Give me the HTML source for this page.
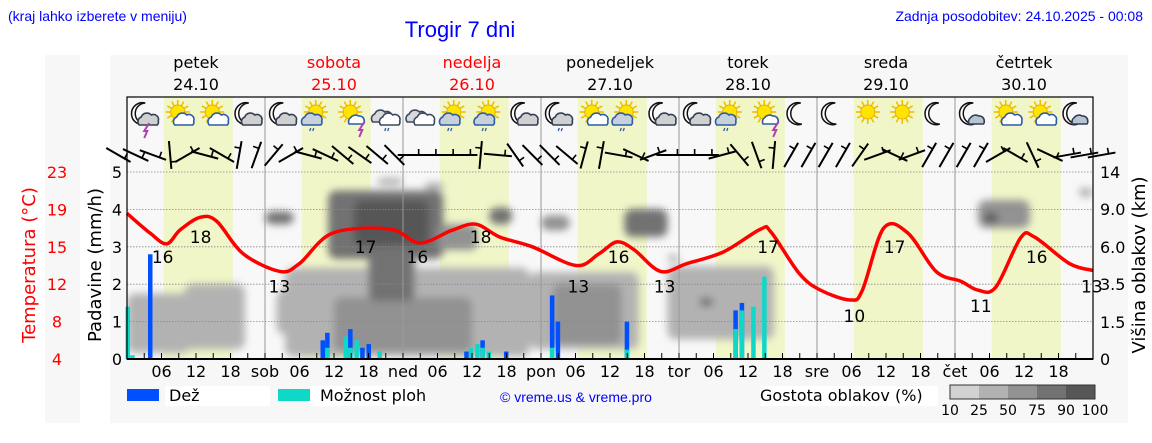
<!DOCTYPE html>
<html><head><meta charset="utf-8"><style>
body{margin:0;background:#fff;width:1152px;height:443px;overflow:hidden;font-family:"Liberation Sans","DejaVu Sans",sans-serif}
svg{display:block}
text{font-family:"DejaVu Sans","Liberation Sans",sans-serif}
</style></head><body>
<svg id="chart" width="1152" height="443" viewBox="0 0 1152 443" xmlns="http://www.w3.org/2000/svg">
<defs><filter id="blur" x="-30%" y="-30%" width="160%" height="160%"><feGaussianBlur stdDeviation="4"/></filter>
<clipPath id="plotclip"><rect x="127" y="97" width="966" height="262"/></clipPath></defs>
<rect x="45" y="55" width="35" height="368" fill="#f7f7f7"/>
<rect x="110" y="55" width="1018" height="368" fill="#f7f7f7"/>
<text x="8" y="21" font-size="14" fill="#0000ff" style="font-family:'Liberation Sans',sans-serif">(kraj lahko izberete v meniju)</text>
<text x="460" y="37" font-size="22" fill="#0000ff" text-anchor="middle" style="font-family:'Liberation Sans',sans-serif">Trogir 7 dni</text>
<text x="1143" y="21" font-size="14" fill="#0000ff" text-anchor="end" style="font-family:'Liberation Sans',sans-serif">Zadnja posodobitev: 24.10.2025 - 00:08</text>
<text transform="translate(35,265) rotate(-90)" font-size="18" fill="#ff0000" text-anchor="middle">Temperatura (°C)</text>
<text transform="translate(101,265) rotate(-90)" font-size="18" fill="#000" text-anchor="middle">Padavine (mm/h)</text>
<text transform="translate(1145,265) rotate(-90)" font-size="18" fill="#000" text-anchor="middle">Višina oblakov (km)</text>
<g id="g-bg"></g><g id="g-cloud" clip-path="url(#plotclip)"><g id="g-cloud-in" filter="url(#blur)"></g></g><g id="g-grid"></g><g id="g-bars"></g><g id="g-temp"></g><g id="g-icons"></g><g id="g-wind"></g><g id="g-axes"></g>
<rect x="127" y="389" width="32" height="12" fill="#0050ff"/>
<rect x="165" y="386" width="105" height="20" fill="#fff"/>
<text x="169" y="401" font-size="16">Dež</text>
<rect x="278" y="389" width="32" height="12" fill="#10d8c8"/>
<rect x="310" y="386" width="110" height="20" fill="#fff"/>
<text x="320" y="401" font-size="16">Možnost ploh</text>
<text x="500" y="402" font-size="14" fill="#0000ff" style="font-family:'Liberation Sans',sans-serif">© vreme.us &amp; vreme.pro</text>
<rect x="760" y="386" width="178" height="20" fill="#fff"/>
<text x="760" y="401" font-size="16">Gostota oblakov (%)</text>
<g id="g-dens"></g>
</svg>
<script>
const NS='http://www.w3.org/2000/svg';
const X0=127,PX_H=5.75,Y0=359;
function xH(h){return X0+h*PX_H;}
function yP(v){return Y0-v*37.4;}
function yT(t){return Y0-(t-4)*9.84;}
const kmTicks=[0,1.5,3.5,6,9,14],kmPix=[359,322,284,247,209,172];
function yKm(k){for(let i=1;i<kmTicks.length;i++){if(k<=kmTicks[i]){const f=(k-kmTicks[i-1])/(kmTicks[i]-kmTicks[i-1]);return kmPix[i-1]+f*(kmPix[i]-kmPix[i-1]);}}return 172-(k-14)*7.4;}
function mk(tag,at,par){const e=document.createElementNS(NS,tag);for(const k in at)e.setAttribute(k,at[k]);par.appendChild(e);return e;}
const G=id=>document.getElementById(id);

const dayNames=['petek','sobota','nedelja','ponedeljek','torek','sreda','četrtek'];
const dayDates=['24.10','25.10','26.10','27.10','28.10','29.10','30.10'];
const dayAbbr=['sob','ned','pon','tor','sre','čet'];
const tempHours=[0,4.0,6.9,9.2,12.7,15.6,20.2,26.6,30.0,35.8,45.7,50.9,56.6,60.7,64.8,70.5,78.1,82.1,85.2,88.2,92.8,97.4,103.8,110.2,112.0,116.9,120.6,125.8,127.9,131.6,135.8,140.7,145.0,148.0,151.1,155.4,157.8,163.9,168];
const tempVals=[18.8,16.8,15.7,17.1,18.4,18.0,14.7,12.9,13.7,16.8,17.2,15.8,17.1,17.7,16.4,15.4,13.5,14.7,15.9,15.1,12.9,13.7,14.9,17.2,16.9,12.7,11.0,10.0,11.0,17.3,16.8,12.9,11.9,11.0,11.3,16.3,16.4,13.7,13.0];
const tempLabelHours=[6.2,12.8,26.5,41.5,50.5,61.5,78.5,85.5,93.5,111.5,126.5,133.5,148.5,158.2,167.8];
const tempLabelVals=[16,18,13,17,16,18,13,16,13,17,10,17,11,16,13];
const barHours=[0.1,0.9,4.0,34.0,34.8,36.3,38.0,38.8,39.9,40.9,42.0,43.9,59.0,59.8,60.9,61.8,62.9,65.9,73.9,74.9,86.9,105.8,106.9,108.9,110.8];
const rainVals=[0,0,2.8,0.5,0.7,0,0,0.8,0,0.3,0.4,0,0.2,0,0,0.5,0,0.2,1.7,1.0,1.0,1.3,1.5,0,0];
const stormVals=[1.4,0.1,0,0,0.3,0,0.6,0.3,0.5,0,0,0.2,0,0.3,0.4,0.3,0.2,0,0.3,0,0.25,0.8,1.3,1.4,2.2];
const cloudH0=[0,10,24,27.5,36,35,39.5,42,54,63,72,43.5,51.7,70,74,86.5,94,99.5,148,149,165.5,94,3,26];
const cloudH1=[11,20.5,29,70,60,55,52.5,50,61,67,77,48,55.2,89,86,94,112.5,102,157,151.5,168,96,8,33];
const cloudKmLo=[0.25,0.4,7.8,0.1,0.3,5.2,6.1,2.6,5.8,7.8,7.3,12.2,11.5,0.4,0.6,6.8,0.8,2.3,7.5,7.9,10.6,5.0,0.6,1.0];
const cloudKmHi=[3.0,3.5,8.8,4.6,2.8,11.5,10.2,5.6,7.8,9.2,8.5,13.2,12.6,4.3,3.5,9.0,4.7,2.8,10.2,8.7,11.9,5.5,2.2,3.2];
const cloudDens=[25,40,75,30,55,75,90,80,70,80,60,25,30,30,50,80,40,75,55,90,25,25,45,40];
const windAngles=[30,25,20,85,-30,15,30,-80,-70,-50,-30,15,25,40,35,40,45,0,0,0,0,-85,5,55,45,45,40,-75,-80,10,25,-20,0,0,0,-15,50,70,-85,-60,-60,-60,-60,-55,-20,25,-20,-60,-60,-60,-60,-30,30,65,25,-10,-10,-10];
const iconTypes=['moonstorm','suncloud','suncloud','mooncloud','mooncloud','suncloudrain','sunstorm','cloudrain','clouds','suncloudrain','suncloudrain','mooncloud','moonrain','suncloud','suncloudrain','mooncloud','mooncloud','suncloudrain','sunstorm','moon','moon','sun','sun','moon','mooncloudl','suncloud','suncloud','mooncloudl'];
const densLabels=[10,25,50,75,90,100];
const densColors=['#d2d2d2','#b2b2b2','#929292','#727272','#575757'];
function densColor(d){return d<25?densColors[0]:d<50?densColors[1]:d<75?densColors[2]:d<90?densColors[3]:densColors[4];}

const bg=G('g-bg');
mk('rect',{x:127,y:97,width:966,height:262,fill:'#f8f8f8'},bg);
for(let d=0;d<7;d++){const r=mk('rect',{x:xH(24*d+6.4),y:97,width:12*PX_H,height:262,fill:'#f1f6c8'},bg);
}
const cg=G('g-cloud-in');
for(let i=0;i<cloudH0.length;i++){const y1=yKm(cloudKmHi[i]),y2=yKm(cloudKmLo[i]);
const e=mk('rect',{x:xH(cloudH0[i]),y:y1,width:xH(cloudH1[i])-xH(cloudH0[i]),height:y2-y1,rx:8,fill:densColor(cloudDens[i])},cg);
}
const gg=G('g-grid');
for(let v=1;v<=5;v++){mk('line',{x1:127,x2:1093,y1:yP(v),y2:yP(v),stroke:'#888','stroke-width':0.8,'stroke-dasharray':'1.5,1.5'},gg);}
for(let d=1;d<7;d++){mk('line',{x1:xH(24*d),x2:xH(24*d),y1:97,y2:359,stroke:'#999','stroke-width':1},gg);}
const bgp=G('g-bars');
for(let i=0;i<barHours.length;i++){const x=xH(barHours[i])-2;
if(rainVals[i]>0){const b=mk('rect',{x:x,y:yP(rainVals[i]),width:4.5,height:Y0-yP(rainVals[i]),fill:'#0050ff'},bgp);
}
if(stormVals[i]>0){const c=mk('rect',{x:x,y:yP(stormVals[i]),width:4.5,height:Y0-yP(stormVals[i]),fill:'#10d8c8'},bgp);
}}
const tg=G('g-temp');
const pts=tempHours.map((h,i)=>[xH(h),yT(tempVals[i])]);
let d='M'+pts[0][0]+','+pts[0][1];
for(let i=0;i<pts.length-1;i++){const p0=pts[Math.max(0,i-1)],p1=pts[i],p2=pts[i+1],p3=pts[Math.min(pts.length-1,i+2)];
d+=' C'+(p1[0]+(p2[0]-p0[0])/6)+','+(p1[1]+(p2[1]-p0[1])/6)+' '+(p2[0]-(p3[0]-p1[0])/6)+','+(p2[1]-(p3[1]-p1[1])/6)+' '+p2[0]+','+p2[1];}
const tl=mk('path',{d:d,fill:'none',stroke:'#ff0000','stroke-width':3.5},tg);

for(let i=0;i<tempLabelHours.length;i++){const t=mk('text',{x:xH(tempLabelHours[i]),y:yT(tempLabelVals[i])+22,'font-size':17,'text-anchor':'middle',fill:'#000'},tg);
t.textContent=tempLabelVals[i];}
const ig=G('g-icons');
function sun(g,cx,cy,r){for(let a=0;a<12;a++){const an=a*Math.PI/6;mk('line',{x1:cx+Math.cos(an)*r,y1:cy+Math.sin(an)*r,x2:cx+Math.cos(an)*(r+5),y2:cy+Math.sin(an)*(r+5),stroke:'#f0c000','stroke-width':1.6},g);}
mk('circle',{cx:cx,cy:cy,r:r,fill:'#ffe400',stroke:'#e8b000','stroke-width':1},g);}
function moon(g,cx,cy){mk('path',{d:`M${cx+4},${cy-11} A11,11 0 1 0 ${cx+5},${cy+10} A9,9 0 0 1 ${cx+4},${cy-11}Z`,fill:'#fff',stroke:'#111','stroke-width':1.5},g);}
function cloud(g,cx,cy,s,fill,stroke){mk('path',{d:`M${cx-9*s},${cy+5*s} A5,5 0 0 1 ${cx-7*s},${cy-3*s} A6,6 0 0 1 ${cx+3*s},${cy-5*s} A5,5 0 0 1 ${cx+10*s},${cy+1*s} A4,4 0 0 1 ${cx+9*s},${cy+5*s} Z`,fill:fill,stroke:stroke,'stroke-width':1.6},g);}
function bolt(g,cx,cy){mk('path',{d:`M${cx+2},${cy} L${cx-3},${cy+8} L${cx},${cy+8} L${cx-3},${cy+15}`,fill:'none',stroke:'#b040b0','stroke-width':2},g);}
function rain(g,cx,cy){mk('path',{d:`M${cx-2},${cy} l-1,3 M${cx+1},${cy} l-1,3`,stroke:'#345a9a','stroke-width':1.3},g);}
iconTypes.forEach((t,i)=>{const cx=xH(3+6*i),cy=116;const g=mk('g',{},ig);

if(t.startsWith('moon')){moon(g,cx-3,cy-2);if(t!=='moon'){cloud(g,cx+4,cy+4,t==='mooncloudl'?0.8:1,t==='mooncloudl'?'#b9c4d2':'#d0d0d0','#333f55');}
if(t==='moonstorm')bolt(g,cx+3,cy+7);if(t==='moonrain')rain(g,cx+3,cy+12);}
else if(t.startsWith('sun')){sun(g,cx-1,cy-4,7);if(t!=='sun'){const rn=t==='suncloudrain';cloud(g,cx+(t==='suncloud'?5:-5)+(t==='sunstorm'?10:0),cy+4,t==='sunstorm'?0.8:1,rn?'#c8d0dc':'#fff','#2b5ca8');
if(rn)rain(g,cx-4,cy+12);if(t==='sunstorm')bolt(g,cx+11,cy+6);}}
else{cloud(g,cx-4,cy+1,1,'#d8d8d8','#3a4a60');cloud(g,cx+4,cy+4,1,'#fff','#3a4a60');if(t==='cloudrain')rain(g,cx+2,cy+12);}
});
const wg=G('g-wind');
windAngles.forEach((a,i)=>{const cx=X0-8.6+17.25*i,cy=155,L=14,r=a*Math.PI/180;
const x1=cx-Math.cos(r)*L,y1=cy-Math.sin(r)*L,x2=cx+Math.cos(r)*L,y2=cy+Math.sin(r)*L;
const g=mk('g',{},wg);
mk('line',{x1:x1,y1:y1,x2:x2,y2:y2,stroke:'#000','stroke-width':2},g);
const fx=x1+(x2-x1)*0.75,fy=y1+(y2-y1)*0.75;
mk('line',{x1:fx,y1:fy,x2:fx+Math.sin(r)*6,y2:fy-Math.cos(r)*6,stroke:'#000','stroke-width':1.6},g);});
const ag=G('g-axes');
mk('rect',{x:127,y:97,width:966,height:262,fill:'none',stroke:'#000','stroke-width':1.2},ag);
mk('line',{x1:127,x2:1093,y1:359,y2:359,stroke:'#000','stroke-width':2},ag);
for(let h=3;h<168;h+=3){mk('line',{x1:xH(h),x2:xH(h),y1:353,y2:359,stroke:'#000','stroke-width':1},ag);}
for(let dd=0;dd<7;dd++){[6,12,18].forEach(h=>{const t=mk('text',{x:xH(24*dd+h),y:377,'font-size':16,'text-anchor':'middle'},ag);t.textContent=(h<10?'0':'')+h;
});
if(dd>0){const t=mk('text',{x:xH(24*dd),y:377,'font-size':16,'text-anchor':'middle'},ag);t.textContent=dayAbbr[dd-1];}
const red=(dd===1||dd===2)?'#ff0000':'#000';
const n=mk('text',{x:xH(24*dd+12),y:68,'font-size':16,'text-anchor':'middle',fill:red},ag);n.textContent=dayNames[dd];
const dt=mk('text',{x:xH(24*dd+12),y:90,'font-size':16,'text-anchor':'middle',fill:red},ag);dt.textContent=dayDates[dd];}
for(let v=0;v<=5;v++){const t=mk('text',{x:122,y:yP(v)+6,'font-size':16,'text-anchor':'end'},ag);t.textContent=v;}
const tempTicks=[23,19,15,12,8,4];
tempTicks.forEach((t,i)=>{const e=mk('text',{x:57,y:yP(5-i)+6,'font-size':16,'text-anchor':'middle',fill:'#ff0000'},ag);e.textContent=t;});
const kmLabels=['0','1.5','3.5','6.0','9.0','14'];
kmLabels.forEach((k,i)=>{const e=mk('text',{x:1100,y:kmPix[i]+6,'font-size':16},ag);e.textContent=k;});
const dg=G('g-dens');
densColors.forEach((c,i)=>{mk('rect',{x:950+i*29,y:385,width:29,height:14,fill:c},dg);});
mk('rect',{x:950,y:385,width:145,height:14,fill:'none',stroke:'#333','stroke-width':1},dg);
densLabels.forEach((v,i)=>{const t=mk('text',{x:950+i*29,y:415,'font-size':14,'text-anchor':'middle'},dg);t.textContent=v;});
</script>
</body></html>
